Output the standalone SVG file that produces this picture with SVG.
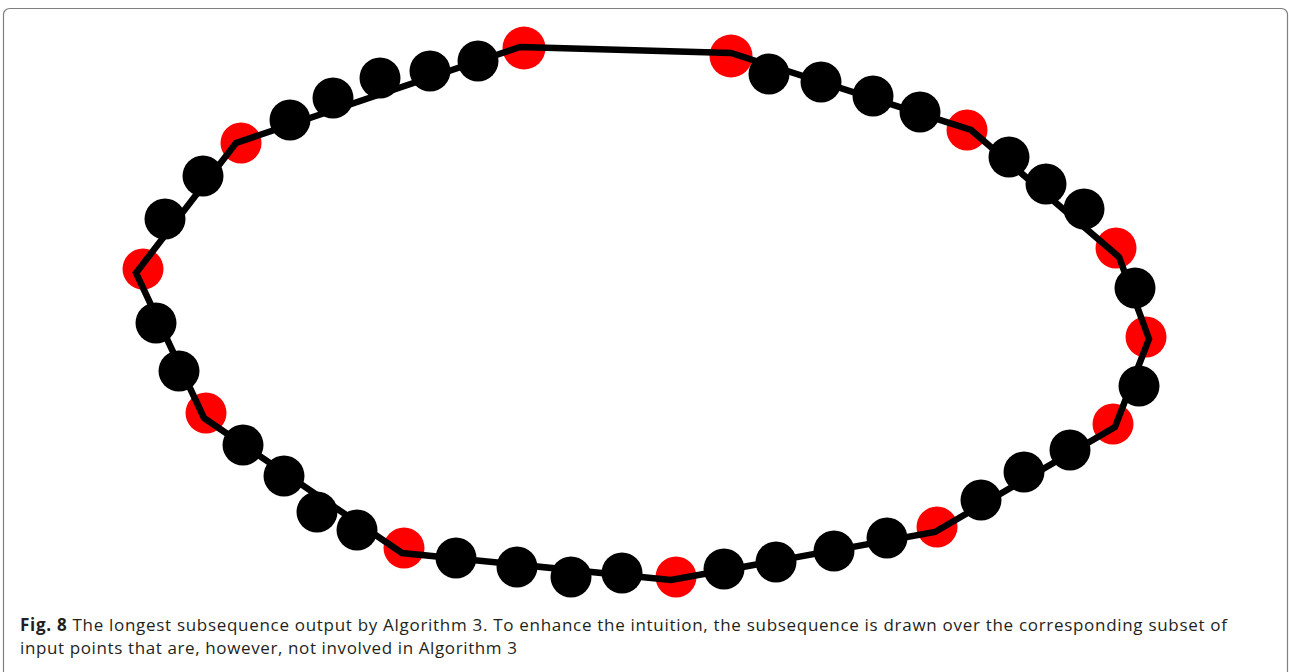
<svg xmlns="http://www.w3.org/2000/svg" width="1289" height="672" viewBox="0 0 1289 672">
<style>
.b{fill:#000}
.r{fill:#ff0000}
.edge{fill:none;stroke:#000;stroke-width:6.5;stroke-linejoin:miter}
.cap{font-family:"Open Sans","Liberation Sans",sans-serif;font-size:17px;fill:#231f20}
.frame{fill:#fff;stroke:#808080;stroke-width:1.2}
</style>
<rect class="frame" x="3.5" y="8.5" width="1284" height="700" rx="6"/>
<g id="points">
<g id="r1"><circle class="r" cx="524" cy="48" r="21.5"/></g>
<g id="r2"><circle class="r" cx="731" cy="56" r="21.5"/></g>
<g id="r3"><circle class="r" cx="967" cy="130" r="20.5"/></g>
<g id="r4"><circle class="r" cx="1116" cy="248" r="20.5"/></g>
<g id="r5"><circle class="r" cx="1146" cy="337" r="20.5"/></g>
<g id="r6"><circle class="r" cx="1113" cy="424" r="20.5"/></g>
<g id="r7"><circle class="r" cx="937" cy="527" r="20.5"/></g>
<g id="r8"><circle class="r" cx="676" cy="577" r="20.5"/></g>
<g id="r9"><circle class="r" cx="404" cy="548" r="20.5"/></g>
<g id="r10"><circle class="r" cx="206" cy="413" r="20.5"/></g>
<g id="r11"><circle class="r" cx="143" cy="269" r="20.5"/></g>
<g id="r12"><circle class="r" cx="241" cy="143" r="20.5"/></g>
<g id="b1"><circle class="b" cx="478" cy="61" r="20.5"/></g>
<g id="b2"><circle class="b" cx="430" cy="71" r="20.5"/></g>
<g id="b3"><circle class="b" cx="380" cy="78" r="20.5"/></g>
<g id="b4"><circle class="b" cx="333" cy="98" r="20.5"/></g>
<g id="b5"><circle class="b" cx="290" cy="120" r="20.5"/></g>
<g id="b6"><circle class="b" cx="203" cy="176" r="20.5"/></g>
<g id="b7"><circle class="b" cx="165" cy="219" r="20.5"/></g>
<g id="b8"><circle class="b" cx="156" cy="323" r="20.5"/></g>
<g id="b9"><circle class="b" cx="179" cy="371" r="20.5"/></g>
<g id="b10"><circle class="b" cx="243" cy="445" r="20.5"/></g>
<g id="b11"><circle class="b" cx="284" cy="476" r="20.5"/></g>
<g id="b12"><circle class="b" cx="317" cy="512" r="20.5"/></g>
<g id="b13"><circle class="b" cx="357" cy="530" r="20.5"/></g>
<g id="b14"><circle class="b" cx="456" cy="558" r="20.5"/></g>
<g id="b15"><circle class="b" cx="517" cy="567" r="20.5"/></g>
<g id="b16"><circle class="b" cx="571" cy="577" r="20.5"/></g>
<g id="b17"><circle class="b" cx="622" cy="573" r="20.5"/></g>
<g id="b18"><circle class="b" cx="724" cy="569" r="20.5"/></g>
<g id="b19"><circle class="b" cx="776" cy="562" r="20.5"/></g>
<g id="b20"><circle class="b" cx="834" cy="551" r="20.5"/></g>
<g id="b21"><circle class="b" cx="887" cy="538" r="20.5"/></g>
<g id="b22"><circle class="b" cx="981" cy="500" r="20.5"/></g>
<g id="b23"><circle class="b" cx="1024" cy="472" r="20.5"/></g>
<g id="b24"><circle class="b" cx="1070" cy="450" r="20.5"/></g>
<g id="b25"><circle class="b" cx="1139" cy="386" r="20.5"/></g>
<g id="b26"><circle class="b" cx="1135" cy="288" r="20.5"/></g>
<g id="b27"><circle class="b" cx="1084" cy="209" r="20.5"/></g>
<g id="b28"><circle class="b" cx="1046" cy="184" r="20.5"/></g>
<g id="b29"><circle class="b" cx="1009" cy="157" r="20.5"/></g>
<g id="b30"><circle class="b" cx="920" cy="112" r="20.5"/></g>
<g id="b31"><circle class="b" cx="873" cy="96" r="20.5"/></g>
<g id="b32"><circle class="b" cx="821" cy="82" r="20.5"/></g>
<g id="b33"><circle class="b" cx="769" cy="74" r="20.5"/></g>
</g>
<g id="connectors">
<polygon class="edge" points="520,47 731,53 971,130 1119,257 1149,339 1115,427 935,532 671,580 402,553 204,418 136,273 236,143"/>
</g>
<g id="caption">
<text class="cap" x="20" y="631" textLength="1207" lengthAdjust="spacing"><tspan font-weight="bold">Fig. 8</tspan> The longest subsequence output by Algorithm 3. To enhance the intuition, the subsequence is drawn over the corresponding subset of</text>
<text class="cap" x="20" y="654" textLength="497" lengthAdjust="spacing">input points that are, however, not involved in Algorithm 3</text>
</g>
</svg>
